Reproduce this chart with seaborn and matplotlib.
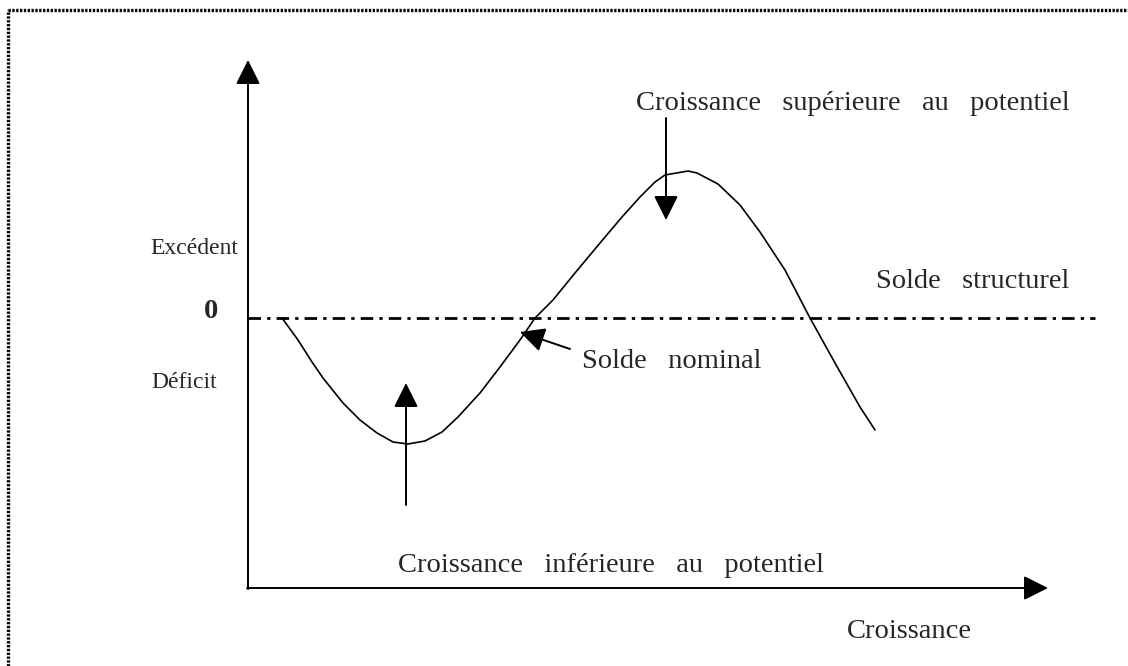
import numpy as np
import pandas as pd
import matplotlib
matplotlib.use('Agg')
import matplotlib.pyplot as plt
import seaborn as sns

# schematic curve: growth (x) vs budget balance (y), 0 = structural balance
growth = [3.4, 5.0, 6.4, 7.5, 9.5, 11.2, 12.9, 14.5, 16.0, 17.7, 19.4, 21.0,
          23.2, 25.2, 27.2, 28.7, 30.5, 32.7, 35.2, 37.4, 39.2, 40.7, 41.7,
          44.0, 44.9, 47.0, 49.2, 51.2, 53.7, 56.2, 58.7, 61.2, 62.7]
solde_nominal = [0.0, -2.2, -4.4, -6.0, -8.5, -10.2, -11.5, -12.4, -12.6, -12.3,
                 -11.4, -9.9, -7.5, -4.9, -2.2, 0.0, 1.8, 4.5, 7.5, 10.1, 12.1,
                 13.6, 14.3, 14.7, 14.5, 13.4, 11.3, 8.6, 4.8, 0.0, -4.5, -8.9, -11.2]
solde_structurel = 0.0

# wide word spacing as in the original (justified text)
labels = {
    'sup': 'Croissance   supérieure   au   potentiel',
    'inf': 'Croissance   inférieure   au   potentiel',
    'exc': 'Excédent',
    'def': 'Déficit',
    'zero': '0',
    'struct': 'Solde   structurel',
    'nom': 'Solde   nominal',
    'xlab': 'Croissance',
}

df = pd.DataFrame({'croissance': growth, 'solde': solde_nominal})

sns.set_theme(style='white')
plt.rcParams['font.family'] = ['Liberation Serif', 'DejaVu Serif']

fig = plt.figure(figsize=(11.28, 6.66), dpi=100)
ax = fig.add_axes([0, 0, 1, 1])

# dotted frame (top and left)
dots = (0, (0.7, 0.45))
ax.plot([-24.0, -24.0], [-34.8, 30.75], color='black', lw=2.4, ls=dots,
        dash_capstyle='butt')
ax.plot([-24.0, 88.0], [30.75, 30.75], color='black', lw=2.4, ls=dots,
        dash_capstyle='butt')

# axes with arrows
x0, y0 = 0.0, -27.0
arrow = dict(arrowstyle='-|>,head_length=1.0,head_width=0.5', color='black',
             lw=1.4, shrinkA=0, shrinkB=0, mutation_scale=15)
ax.annotate('', xy=(x0, 25.8), xytext=(x0, y0 - 0.1), arrowprops=arrow)
ax.annotate('', xy=(80.0, y0), xytext=(x0 - 0.1, y0), arrowprops=arrow)

# structural balance line
ax.plot([0, 84.7], [solde_structurel, solde_structurel], color='black', lw=2,
        ls=(0, (4.5, 2.2, 1.2, 2.2)))

# nominal balance curve
sns.lineplot(data=df, x='croissance', y='solde', sort=False, color='black',
             lw=1.2, ax=ax)
ax.set_xlim(-24.8, 88.0)
ax.set_ylim(-34.8, 31.8)
ax.axis('off')

# annotation arrows
ax.annotate('', xy=(15.8, -6.5), xytext=(15.8, -18.7), arrowprops=arrow)
ax.annotate('', xy=(41.8, 9.8), xytext=(41.8, 20.0), arrowprops=arrow)
ax.annotate('', xy=(27.2, -1.4), xytext=(32.2, -3.1), arrowprops=arrow)

fs = 20.5
fs_side = 17
ax.text(38.8, 21.5, labels['sup'], fontsize=fs, va='center', ha='left')
ax.text(-9.8, 7.0, labels['exc'], fontsize=fs_side, va='center', ha='left')
ax.text(-3.7, 0.6, labels['zero'], fontsize=fs, va='center', ha='center', fontweight='bold')
ax.text(-9.7, -6.4, labels['def'], fontsize=fs_side, va='center', ha='left')
ax.text(62.8, 3.7, labels['struct'], fontsize=fs, va='center', ha='left')
ax.text(33.4, -4.3, labels['nom'], fontsize=fs, va='center', ha='left')
ax.text(15.0, -24.8, labels['inf'], fontsize=fs, va='center', ha='left')
ax.text(59.9, -31.3, labels['xlab'], fontsize=fs, va='center', ha='left')

fig.savefig('out.png', dpi=100)
